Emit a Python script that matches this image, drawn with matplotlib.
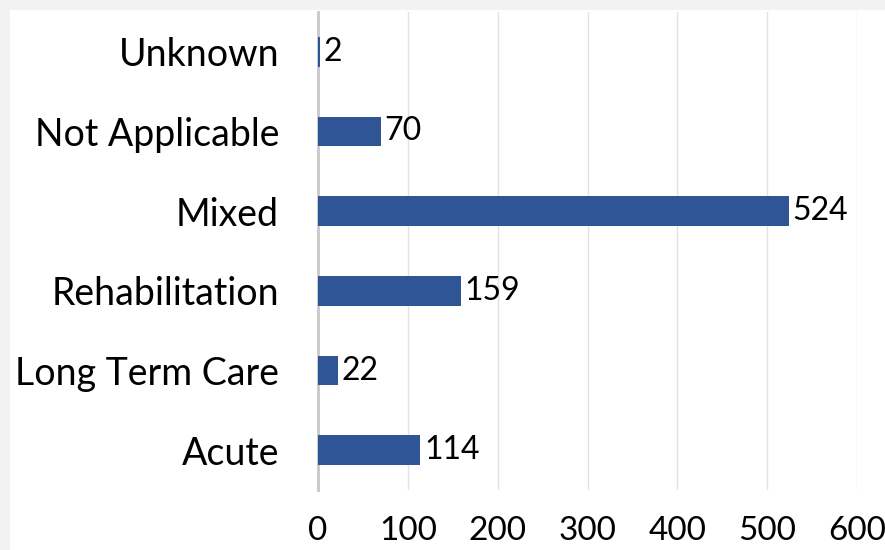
import matplotlib.pyplot as plt
from matplotlib.patches import Rectangle

categories = ['Acute', 'Long Term Care', 'Rehabilitation', 'Mixed', 'Not Applicable', 'Unknown']
counts = [114, 22, 159, 524, 70, 2]
xticks = [0, 100, 200, 300, 400, 500, 600]

plt.rcParams['font.family'] = ['Lato', 'DejaVu Sans']

fig = plt.figure(figsize=(8.85, 5.5), dpi=100)
fig.patch.set_facecolor('#f2f2f2')
# white panel, thin grey strip left and top
fig.patches.append(Rectangle((10 / 885, 0), 1, 1 - 10 / 550, transform=fig.transFigure,
                             facecolor='white', edgecolor='none', zorder=-5))

ax = fig.add_axes([318 / 885, 1 - 490 / 550, (857 - 318) / 885, (490 - 12) / 550])
ax.set_facecolor('none')

ax.barh(range(len(categories)), counts, height=0.37, color='#2f5597', zorder=3)
for i, v in enumerate(counts):
    ax.text(v + 4, i, str(v), va='center', ha='left', fontsize=23, color='black', zorder=4)

ax.set_xlim(0, 600)
ax.set_ylim(-0.5, len(categories) - 0.5)
ax.set_xticks(xticks)
ax.set_xticklabels([str(t) for t in xticks], fontsize=24, color='black')
ax.set_yticks(range(len(categories)))
ax.set_yticklabels(categories, fontsize=27, color='black')
ax.tick_params(axis='both', length=0)
ax.tick_params(axis='x', pad=19)
ax.tick_params(axis='y', pad=28)

ax.grid(axis='x', color='#e3e3e3', linewidth=1, zorder=0)
for s in ['top', 'right', 'bottom']:
    ax.spines[s].set_visible(False)
ax.spines['left'].set_color('#c8c8c8')
ax.spines['left'].set_linewidth(2)

fig.savefig('out.png', dpi=100)
